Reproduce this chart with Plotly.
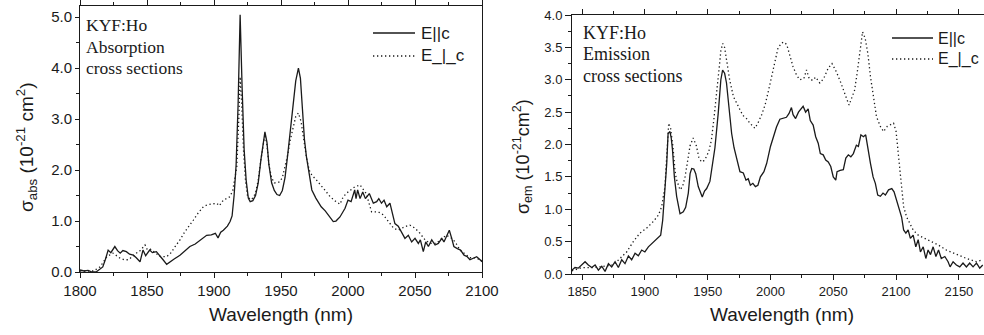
import plotly.graph_objects as go

# ---------------- Absorption (left panel) ----------------
abs_par_x = [1800, 1803, 1806, 1809, 1812, 1815, 1817, 1819, 1821, 1823, 1826, 1828, 1830, 1832, 1834.6, 1837,
             1839.8, 1842, 1844.8, 1847, 1849, 1852, 1854, 1857, 1859.7, 1862, 1864.7, 1867, 1870, 1874.6, 1878,
             1882, 1886, 1889.6, 1892, 1894.5, 1898, 1901, 1903, 1905, 1907, 1910, 1912, 1913.5, 1915, 1916.5,
             1918, 1919.5, 1921, 1922.5, 1924, 1925.6, 1927, 1929, 1931, 1933, 1935, 1937, 1938, 1939.5, 1941,
             1943, 1945, 1947, 1949, 1951, 1953, 1955, 1957, 1959, 1961, 1963, 1964.5, 1966, 1967.5, 1969, 1971,
             1973, 1976, 1978, 1980, 1983, 1986, 1989, 1991, 1994, 1997.8, 2000, 2002.3, 2005, 2006, 2007.2, 2009,
             2011, 2013, 2015.9, 2018.9, 2021.4, 2023, 2025, 2026.9, 2028.9, 2031.3, 2033.8, 2035, 2037.5, 2040,
             2042.5, 2045, 2047.5, 2050, 2052.5, 2054, 2056.2, 2058, 2060, 2062.5, 2065, 2067.4, 2070, 2071.6,
             2073.6, 2075.6, 2077.4, 2079, 2081.6, 2084, 2086.6, 2089, 2091, 2093.6, 2096, 2098.6, 2100]
abs_par_y = [0.04, 0.02, 0.03, 0.0, 0.0, 0.05, 0.1, 0.25, 0.43, 0.38, 0.5, 0.42, 0.37, 0.42, 0.4, 0.35,
             0.33, 0.28, 0.2, 0.43, 0.32, 0.43, 0.38, 0.4, 0.3, 0.24, 0.15, 0.2, 0.25, 0.33, 0.4,
             0.5, 0.55, 0.63, 0.68, 0.72, 0.73, 0.76, 0.67, 0.78, 0.82, 0.9, 0.99, 1.1, 1.5, 2.1,
             3.3, 5.05, 3.6, 2.4, 1.8, 1.45, 1.38, 1.4, 1.5, 1.75, 2.2, 2.65, 2.75, 2.55, 2.1,
             1.75, 1.6, 1.52, 1.5, 1.6, 1.85, 2.3, 2.8, 3.3, 3.75, 4.0, 3.8, 3.2, 2.6, 2.26, 1.9,
             1.61, 1.45, 1.35, 1.28, 1.2, 1.1, 0.99, 1.0, 1.08, 1.25, 1.41, 1.38, 1.61, 1.44, 1.61, 1.44,
             1.57, 1.44, 1.54, 1.35, 1.38, 1.44, 1.35, 1.41, 1.28, 1.35, 1.05, 0.95, 0.9, 0.79,
             0.66, 0.72, 0.59, 0.66, 0.56, 0.63, 0.4, 0.59, 0.5, 0.63, 0.53, 0.56, 0.66, 0.59,
             0.69, 0.82, 0.66, 0.5, 0.46, 0.43, 0.33, 0.3, 0.24, 0.27, 0.3, 0.24, 0.2]

abs_perp_x = [1800, 1805, 1810, 1815, 1820, 1824.6, 1828, 1830, 1833, 1836, 1839, 1842, 1845, 1848.5, 1850,
              1852, 1856, 1860, 1864.7, 1868, 1871, 1874.6, 1878, 1881, 1884.6, 1888, 1892, 1895, 1898, 1902,
              1904, 1907, 1910, 1912, 1914, 1915.5, 1917, 1918.5, 1919.5, 1920.5, 1922, 1923.5, 1925, 1927,
              1929, 1931, 1933, 1935, 1937, 1938, 1939.5, 1941, 1943, 1945, 1947, 1949, 1951, 1953, 1955, 1957,
              1959, 1961, 1963, 1965, 1967, 1969, 1971, 1973, 1976.6, 1980, 1983, 1986.6, 1990, 1994, 1996.5,
              2000, 2005, 2009, 2013.6, 2017.6, 2022.6, 2026.4, 2030, 2034, 2037.5, 2042.5, 2046.2, 2050,
              2053.7, 2057.5, 2061.2, 2066, 2070, 2073.6, 2077.4, 2080, 2083.6, 2087, 2091, 2095, 2100]
abs_perp_y = [0.02, 0.02, 0.02, 0.1, 0.3, 0.37, 0.3, 0.27, 0.24, 0.24, 0.3, 0.37, 0.42, 0.53, 0.45,
              0.46, 0.38, 0.3, 0.3, 0.38, 0.5, 0.63, 0.78, 0.9, 1.02, 1.15, 1.28, 1.32, 1.33, 1.35,
              1.3, 1.41, 1.45, 1.48, 1.6, 1.8, 2.06, 3.0, 3.83, 3.4, 2.4, 1.8, 1.5, 1.42,
              1.45, 1.55, 1.8, 2.2, 2.6, 2.7, 2.5, 2.1, 1.85, 1.75, 1.75, 1.77, 1.85, 2.05, 2.3, 2.6,
              2.85, 3.05, 3.12, 2.95, 2.6, 2.25, 2.0, 1.9, 1.8, 1.7, 1.6, 1.48, 1.4, 1.33, 1.48,
              1.57, 1.67, 1.71, 1.54, 1.18, 1.18, 1.12, 0.99, 0.86, 0.82, 0.89, 0.92, 0.86,
              0.76, 0.63, 0.56, 0.56, 0.66, 0.72, 0.66, 0.59, 0.43, 0.36, 0.28, 0.28, 0.22]

# ---------------- Emission (right panel) ----------------
em_par_x = [1842, 1844.4, 1847, 1849.8, 1852.4, 1855, 1857.7, 1860.4, 1863, 1865.7, 1868.3, 1871, 1873.6,
            1876.3, 1878.9, 1881.6, 1884.2, 1886.9, 1889.5, 1892.2, 1894.8, 1897.5, 1900, 1902.8, 1905.5,
            1908, 1910.8, 1912.6, 1914.2, 1916, 1917.4, 1918.5, 1920, 1921, 1922, 1923.5, 1925.3, 1928,
            1930.6, 1932.5, 1934.6, 1936, 1937.3, 1939, 1940.5, 1942.5, 1945.7, 1947.5, 1949.2, 1951.8, 1954,
            1955.8, 1958.4, 1960.5, 1961.9, 1963.5, 1965, 1967, 1969.1, 1971, 1973, 1975.7, 1978.4, 1980.5,
            1982.3, 1984, 1986, 1988, 1990, 1992, 1994.8, 1997, 2000, 2002.2, 2004.8, 2007.5, 2010, 2012.7,
            2014.8, 2016.7, 2018, 2020, 2022.3, 2024.6, 2026, 2028, 2030, 2031.7, 2034, 2036, 2038, 2039.7,
            2042, 2044, 2046, 2048, 2050, 2052, 2053, 2055.5, 2058, 2060, 2062, 2064, 2066, 2068.4, 2070,
            2072, 2074, 2075.8, 2077.4, 2079.6, 2081.7, 2083.5, 2085.4, 2087.5, 2089.6, 2091.5, 2094, 2096.6,
            2098.4, 2100.4, 2102.5, 2104.4, 2106, 2107.8, 2109.6, 2111.4, 2113.6, 2115.7, 2117.6, 2119.4,
            2121.6, 2123.7, 2125.5, 2127.4, 2129.5, 2131.7, 2133.8, 2136, 2138.8, 2141.4, 2143, 2145.4, 2148,
            2150.7, 2153.3, 2156, 2158.6, 2161.3, 2164, 2166.6, 2169]
em_par_y = [0.06, 0.1, 0.09, 0.14, 0.19, 0.14, 0.1, 0.14, 0.06, 0.12, 0.04, 0.16, 0.11,
            0.19, 0.1, 0.22, 0.16, 0.28, 0.22, 0.32, 0.28, 0.37, 0.34, 0.42, 0.47,
            0.53, 0.58, 0.6, 0.83, 1.25, 1.7, 2.17, 2.2, 2.1, 1.92, 1.5, 1.2, 0.93,
            0.96, 1.03, 1.25, 1.55, 1.63, 1.62, 1.55, 1.35, 1.19, 1.28, 1.32, 1.43, 1.7,
            1.95, 2.48, 3.0, 3.15, 3.1, 2.95, 2.6, 2.17, 1.95, 1.81, 1.58, 1.56, 1.45,
            1.47, 1.37, 1.4, 1.35, 1.37, 1.5, 1.58, 1.71, 1.97, 2.12, 2.27, 2.39, 2.41, 2.42,
            2.48, 2.57, 2.46, 2.4, 2.5, 2.55, 2.59, 2.5, 2.55, 2.37, 2.3, 2.12, 2.02, 1.86,
            1.84, 1.76, 1.73, 1.66, 1.5, 1.45, 1.58, 1.6, 1.61, 1.79, 1.84, 1.81, 1.86, 1.99, 1.97,
            2.15, 2.12, 2.15, 1.94, 1.71, 1.5, 1.4, 1.22, 1.2, 1.25, 1.22, 1.3, 1.32,
            1.27, 1.14, 1.01, 0.88, 0.68, 0.63, 0.68, 0.55, 0.6, 0.42, 0.53, 0.34,
            0.42, 0.24, 0.37, 0.3, 0.42, 0.27, 0.37, 0.24, 0.27, 0.19, 0.11, 0.19, 0.14,
            0.11, 0.17, 0.11, 0.17, 0.11, 0.17, 0.09, 0.14]

em_perp_x = [1842, 1850, 1860, 1870, 1875, 1880.2, 1885.5, 1890.8, 1896, 1901.5, 1906.7, 1910.8, 1913.4,
             1916, 1917.5, 1919, 1920.5, 1922.3, 1924, 1925, 1928, 1930, 1932, 1934, 1936, 1938.5, 1941,
             1943, 1945, 1947, 1949, 1951, 1953, 1955, 1957, 1959, 1960.5, 1962, 1963.5, 1965, 1967.5,
             1970.5, 1974.5, 1978, 1981, 1983.6, 1987.6, 1990, 1993, 1995.7, 1998.3, 2001, 2003.6, 2006,
             2009, 2011, 2013, 2015.5, 2018, 2020.8, 2023.4, 2026.6, 2028.7, 2030.8, 2033.5, 2036, 2039.3,
             2042.4, 2046, 2049, 2052.5, 2055.7, 2058.3, 2061, 2062.6, 2064.4, 2067, 2069, 2071, 2073.3,
             2075.4, 2077.5, 2079.6, 2081.7, 2084.4, 2087.5, 2090, 2093, 2095, 2098, 2100, 2101.6, 2103,
             2104.4, 2106, 2108.4, 2111, 2113.6, 2117.6, 2122.9, 2128.2, 2133.5, 2140, 2148, 2156, 2164, 2169]
em_perp_y = [0.05, 0.1, 0.1, 0.12, 0.14, 0.24, 0.34, 0.5, 0.63, 0.71, 0.81, 0.91, 1.04,
             1.35, 1.8, 2.33, 2.25, 1.98, 1.6, 1.47, 1.3, 1.35, 1.5, 1.75, 1.98, 2.1, 1.98,
             1.8, 1.73, 1.75, 1.81, 1.9, 2.07, 2.4, 2.74, 3.15, 3.45, 3.56, 3.5, 3.3, 3.0,
             2.74, 2.58, 2.45, 2.4, 2.33, 2.25, 2.33, 2.46, 2.61, 2.82, 3.07, 3.3, 3.49,
             3.57, 3.58, 3.54, 3.38, 3.2, 3.07, 3.0, 3.02, 3.15, 3.02, 2.99, 3.04, 2.95,
             3.02, 3.18, 3.25, 3.12, 2.97, 2.82, 2.69, 2.61, 2.71, 2.84, 3.1, 3.43, 3.74,
             3.64, 3.41, 3.05, 2.74, 2.43, 2.28, 2.2, 2.28, 2.3, 2.33, 2.2, 1.91, 1.61,
             1.3, 1.04, 0.88, 0.78, 0.68, 0.6, 0.55, 0.5, 0.45, 0.37, 0.3, 0.24, 0.19, 0.22]

legend_names = ["E||c", "E_|_c"]
panel_notes_left = ["KYF:Ho", "Absorption", "cross sections"]
panel_notes_right = ["KYF:Ho", "Emission", "cross sections"]

W, H = 984, 335
def px(x): return x / W
def py(y): return 1 - y / H

INK = "#1a1a1a"
SANS = "Liberation Sans, Arial, sans-serif"
SERIF = "Liberation Serif, Times New Roman, serif"
DOT = "1.3px,2.7px"

fig = go.Figure()
fig.add_trace(go.Scatter(x=abs_par_x, y=abs_par_y, mode="lines", name=legend_names[0],
                         line=dict(color=INK, width=1.3), xaxis="x", yaxis="y", showlegend=False))
fig.add_trace(go.Scatter(x=abs_perp_x, y=abs_perp_y, mode="lines", name=legend_names[1],
                         line=dict(color=INK, width=1.3, dash=DOT), xaxis="x", yaxis="y", showlegend=False))
fig.add_trace(go.Scatter(x=em_par_x, y=em_par_y, mode="lines", name=legend_names[0],
                         line=dict(color=INK, width=1.3), xaxis="x2", yaxis="y2", showlegend=False))
fig.add_trace(go.Scatter(x=em_perp_x, y=em_perp_y, mode="lines", name=legend_names[1],
                         line=dict(color=INK, width=1.3, dash=DOT), xaxis="x2", yaxis="y2", showlegend=False))

axis_common = dict(showline=True, linecolor=INK, linewidth=1, showgrid=False, zeroline=False,
                   ticks="outside", tickcolor=INK, tickwidth=1, automargin=False)

fig.update_layout(
    template="none",
    width=W, height=H, margin=dict(l=0, r=0, t=0, b=0, pad=0),
    paper_bgcolor="white", plot_bgcolor="white", showlegend=False,
    xaxis=dict(**axis_common, domain=[px(80), px(482)], range=[1800, 2100], anchor="y",
               tick0=1800, dtick=50, ticklen=5, mirror="ticks",
               minor=dict(dtick=25, ticklen=3, ticks="outside", tickcolor=INK),
               tickfont=dict(family=SANS, size=15, color=INK)),
    yaxis=dict(**axis_common, domain=[py(272), py(6)], range=[0, 5.22], anchor="x",
               tick0=0, dtick=1, tickformat=".1f", ticklen=4, mirror=True,
               minor=dict(dtick=0.5, ticklen=3, ticks="outside", tickcolor=INK),
               tickfont=dict(family=SANS, size=15, color=INK)),
    xaxis2=dict(**axis_common, domain=[px(572), 1.0], range=[1842, 2170], anchor="y2",
                tick0=1850, dtick=50, ticklen=5, mirror="ticks",
                minor=dict(dtick=25, ticklen=3, ticks="outside", tickcolor=INK),
                tickfont=dict(family=SANS, size=13, color=INK)),
    yaxis2=dict(**axis_common, domain=[py(274), py(15)], range=[0, 4], anchor="x2",
                tick0=0, dtick=0.5, tickformat=".1f", ticklen=6,
                minor=dict(dtick=0.25, ticklen=3, ticks="outside", tickcolor=INK),
                tickfont=dict(family=SANS, size=13, color=INK)),
)

ann = []
def note(text, x, y, size, family, xanchor="center", angle=0):
    ann.append(dict(text=text, x=px(x), y=py(y), xref="paper", yref="paper", xanchor=xanchor,
                    yanchor="middle", textangle=angle, showarrow=False,
                    font=dict(family=family, size=size, color=INK)))

# axis titles
note("Wavelength (nm)", 281, 314, 19, SANS)
note("Wavelength (nm)", 782, 314, 19, SANS)
note("σ<sub>abs</sub> (10<sup>-21</sup> cm<sup>2</sup>)", 26, 147, 19, SANS, angle=-90)
note("σ<sub>em</sub> (10<sup>-21</sup>cm<sup>2</sup>)", 522, 157, 18, SANS, angle=-90)
# panel notes
for t, yy in zip(panel_notes_left, [25, 47, 68]):
    note(t, 84, yy, 17.5, SERIF, xanchor="left")
for t, yy in zip(panel_notes_right, [33, 54, 76]):
    note(t, 581, yy, 18, SERIF, xanchor="left")
# legends
for t, yy in zip(legend_names, [33, 56]):
    note(t, 419, yy, 17, SANS, xanchor="left")
for t, yy in zip(legend_names, [38, 59]):
    note(t, 936, yy, 16, SANS, xanchor="left")
fig.update_layout(annotations=ann)

shapes = []
for yy, d in zip([33, 56], ["solid", DOT]):
    shapes.append(dict(type="line", xref="paper", yref="paper", x0=px(373), x1=px(415), y0=py(yy), y1=py(yy),
                       line=dict(color=INK, width=1.3, dash=d)))
for yy, d in zip([38, 59], ["solid", DOT]):
    shapes.append(dict(type="line", xref="paper", yref="paper", x0=px(892), x1=px(933), y0=py(yy), y1=py(yy),
                       line=dict(color=INK, width=1.3, dash=d)))
fig.update_layout(shapes=shapes)

fig.write_html("out.html", config={"displayModeBar": False},
               post_script="document.body.style.margin='0';document.body.style.overflow='hidden';")
